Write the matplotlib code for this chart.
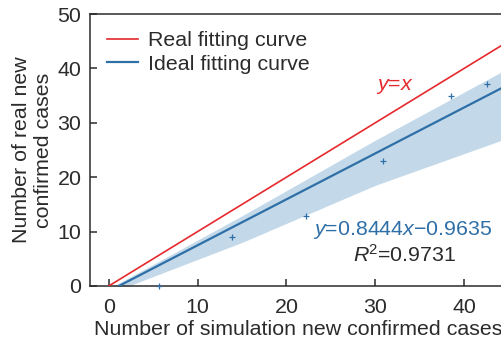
import matplotlib

matplotlib.use("Agg")
import matplotlib.pyplot as plt

# Observed points (simulated vs real new confirmed cases)
sim_cases = [5.7, 13.9, 22.2, 30.9, 38.5, 42.6]
real_cases = [0.0, 9.0, 12.9, 23.0, 35.0, 37.1]

# Fitted line coefficients
slope = 0.8444
intercept = -0.9635
r_squared = 0.9731

# Shaded band
band_x = [0.0, 15.0, 30.0, 46.3]
band_lo = [-1.4, 8.0, 18.5, 28.0]
band_hi = [-0.5, 12.9, 26.8, 41.2]

x_max = 46.3
FS = 15.4

RED = "#e5292d"
BLUE = "#2f6fa7"
BAND = "#c3d9e9"
DARK = "#2b2b2b"

plt.rcParams["font.family"] = ["Liberation Sans", "DejaVu Sans"]
plt.rcParams["mathtext.fontset"] = "custom"
plt.rcParams["mathtext.it"] = "Liberation Sans:italic"
plt.rcParams["mathtext.rm"] = "Liberation Sans"

fig = plt.figure(figsize=(5.02, 3.42), dpi=100)
ax = fig.add_axes([0.179, 0.164, 1.036 - 0.179, 0.959 - 0.164])

ax.fill_between(band_x, band_lo, band_hi, color=BAND, linewidth=0, zorder=1)

ax.plot([0, x_max], [0, x_max], color=RED, lw=1.2, label="Real fitting curve", zorder=3)
x0 = -intercept / slope
ax.plot([x0, x_max], [slope * x0 + intercept, slope * x_max + intercept],
        color=BLUE, lw=1.6, label="Ideal fitting curve", zorder=3)

ax.scatter(sim_cases, real_cases, marker="+", s=22, color=BLUE, linewidths=0.9,
           zorder=4, clip_on=False)

ax.set_xlim(-2.14, x_max)
ax.set_ylim(0, 50)
ax.set_xticks([0, 10, 20, 30, 40])
ax.set_yticks([0, 10, 20, 30, 40, 50])

for side in ("left", "bottom", "top"):
    ax.spines[side].set_color(DARK)
    ax.spines[side].set_linewidth(1.1)
ax.spines["right"].set_visible(False)
ax.tick_params(direction="in", length=5, width=1.1, color=DARK,
               labelsize=FS, labelcolor=DARK)
ax.tick_params(axis="x", pad=9)
ax.tick_params(axis="y", pad=6)

ax.set_xlabel("Number of simulation new confirmed cases", fontsize=FS, color=DARK)
ax.xaxis.set_label_coords(0.485, -0.125)
ax.set_ylabel("Number of real new\nconfirmed cases", fontsize=FS, color=DARK,
              linespacing=1.25)
ax.yaxis.set_label_coords(-0.085, 0.5)

ax.text(32.2, 36.6, "$y$=$x$", color=RED, fontsize=FS, ha="center", va="center")
ax.text(23.0, 10.3, f"$y$=0.8444$x$\u22120.9635", color=BLUE, fontsize=FS,
        ha="left", va="center")
ax.text(27.5, 5.8, "$R$$^{2}$=0.9731", color=DARK, fontsize=FS, ha="left", va="center")

ax.legend(loc="upper left", frameon=False, fontsize=FS, handlelength=1.45,
          handletextpad=0.45, labelspacing=0.22, borderaxespad=0.4,
          bbox_to_anchor=(0.0, 1.0), labelcolor=DARK)

fig.savefig("out.png", dpi=100)
